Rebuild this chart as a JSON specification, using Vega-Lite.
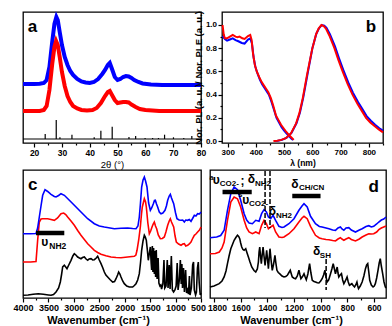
{
"$schema": "https://vega.github.io/schema/vega-lite/v6.json",
"background": "white",
"padding": {"left": 12, "top": 8, "right": 0, "bottom": 0},
"spacing": -6,
"config": {
  "view": {"stroke": "black", "strokeWidth": 1.3},
  "axis": {"domain": false, "grid": false, "tickColor": "black", "tickWidth": 1.2, "labelColor": "black", "titleColor": "black", "labelFont": "Liberation Sans", "titleFont": "Liberation Sans", "labelFontWeight": "bold", "titleFontWeight": "bold", "labelFlush": false, "labelOverlap": false, "labelPadding": 1.5, "titlePadding": 2},
  "text": {"font": "Liberation Sans", "fontWeight": "bold", "color": "black"},
  "line": {"clip": true}
},
"datasets": {
  "xrd_b": [{"x":16,"y":58},{"x":20,"y":58},{"x":22,"y":58.2},{"x":23.5,"y":59},{"x":24.5,"y":62},{"x":25.5,"y":75},{"x":26.5,"y":100},{"x":27.3,"y":118},{"x":28,"y":125},{"x":28.5,"y":122},{"x":29.2,"y":110},{"x":30,"y":97},{"x":31,"y":85},{"x":32,"y":77},{"x":33,"y":71},{"x":34,"y":67},{"x":35.5,"y":63},{"x":37,"y":60.5},{"x":38.5,"y":59.5},{"x":40,"y":59},{"x":41.5,"y":60},{"x":43,"y":63},{"x":44.5,"y":68},{"x":45.5,"y":72},{"x":46.5,"y":77},{"x":47.2,"y":79},{"x":48,"y":73},{"x":49,"y":65},{"x":50,"y":62},{"x":51,"y":63},{"x":52,"y":65},{"x":53,"y":66},{"x":54,"y":65.5},{"x":55,"y":64},{"x":56,"y":62},{"x":57.5,"y":60},{"x":59,"y":58.5},{"x":62,"y":57.5},{"x":66,"y":57},{"x":70,"y":57},{"x":75,"y":57},{"x":80,"y":57}],
  "xrd_r": [{"x":16,"y":31},{"x":22,"y":31},{"x":23.5,"y":32},{"x":24.5,"y":36},{"x":25.5,"y":52},{"x":26.5,"y":78},{"x":27.3,"y":95},{"x":27.9,"y":101},{"x":28.5,"y":97},{"x":29.2,"y":85},{"x":30,"y":70},{"x":31,"y":56},{"x":32,"y":46},{"x":33,"y":40},{"x":34,"y":36},{"x":35.5,"y":33.5},{"x":37,"y":32},{"x":39,"y":31.5},{"x":41,"y":32},{"x":42.5,"y":34},{"x":44,"y":39},{"x":45.5,"y":46},{"x":46.5,"y":50},{"x":47.2,"y":51},{"x":48,"y":47},{"x":49,"y":42},{"x":50,"y":39},{"x":51,"y":39.5},{"x":52,"y":40},{"x":53,"y":40},{"x":54,"y":39.5},{"x":55,"y":37.5},{"x":56.5,"y":35},{"x":58,"y":33},{"x":60,"y":32},{"x":65,"y":31},{"x":70,"y":31},{"x":75,"y":31},{"x":80,"y":31}],
  "sticks": [{"x":23.98,"y":8},{"x":27.95,"y":22},{"x":29.28,"y":4.7},{"x":33.6,"y":7.3},{"x":41.6,"y":4.7},{"x":44.0,"y":11.3},{"x":48.07,"y":15.3},{"x":54.1,"y":5},{"x":56.5,"y":6},{"x":59.9,"y":4},{"x":62.6,"y":4},{"x":64.7,"y":4},{"x":66.9,"y":7.3},{"x":70.1,"y":4.7},{"x":73.8,"y":4},{"x":76.7,"y":6}],
  "ple_r": [{"x":282,"y":1.0},{"x":286,"y":0.92},{"x":290,"y":0.885},{"x":298,"y":0.885},{"x":308,"y":0.9},{"x":318,"y":0.915},{"x":328,"y":0.9},{"x":335,"y":0.895},{"x":342,"y":0.9},{"x":352,"y":0.885},{"x":360,"y":0.88},{"x":372,"y":0.905},{"x":380,"y":0.915},{"x":385,"y":0.87},{"x":390,"y":0.75},{"x":396,"y":0.66},{"x":403,"y":0.6},{"x":412,"y":0.55},{"x":420,"y":0.51},{"x":428,"y":0.48},{"x":436,"y":0.45},{"x":444,"y":0.42},{"x":453,"y":0.37},{"x":462,"y":0.3},{"x":471,"y":0.22},{"x":480,"y":0.18},{"x":489,"y":0.14},{"x":498,"y":0.11},{"x":507,"y":0.08},{"x":516,"y":0.055},{"x":524,"y":0.035},{"x":534,"y":0.01}],
  "ple_b": [{"x":282,"y":0.905},{"x":290,"y":0.88},{"x":298,"y":0.865},{"x":308,"y":0.875},{"x":318,"y":0.885},{"x":328,"y":0.87},{"x":338,"y":0.86},{"x":350,"y":0.845},{"x":360,"y":0.84},{"x":372,"y":0.875},{"x":380,"y":0.885},{"x":386,"y":0.84},{"x":392,"y":0.72},{"x":398,"y":0.64},{"x":406,"y":0.58},{"x":414,"y":0.53},{"x":422,"y":0.49},{"x":430,"y":0.46},{"x":438,"y":0.43},{"x":446,"y":0.4},{"x":455,"y":0.34},{"x":464,"y":0.27},{"x":473,"y":0.2},{"x":482,"y":0.16},{"x":491,"y":0.12},{"x":500,"y":0.09},{"x":509,"y":0.065},{"x":518,"y":0.04},{"x":526,"y":0.02},{"x":532,"y":0.01}],
  "pl_r": [{"x":462,"y":0},{"x":475,"y":0.003},{"x":490,"y":0.01},{"x":506,"y":0.025},{"x":524,"y":0.065},{"x":542,"y":0.15},{"x":554,"y":0.24},{"x":566,"y":0.37},{"x":581,"y":0.57},{"x":599,"y":0.79},{"x":613,"y":0.92},{"x":622,"y":0.97},{"x":632,"y":1.0},{"x":640,"y":0.99},{"x":648,"y":0.97},{"x":660,"y":0.91},{"x":678,"y":0.8},{"x":692,"y":0.7},{"x":707,"y":0.6},{"x":725,"y":0.49},{"x":742,"y":0.4},{"x":760,"y":0.32},{"x":775,"y":0.26},{"x":790,"y":0.2},{"x":805,"y":0.16},{"x":820,"y":0.13},{"x":835,"y":0.1},{"x":850,"y":0.075}],
  "pl_b": [{"x":465,"y":0},{"x":478,"y":0.003},{"x":492,"y":0.01},{"x":508,"y":0.027},{"x":526,"y":0.07},{"x":544,"y":0.155},{"x":556,"y":0.245},{"x":568,"y":0.38},{"x":583,"y":0.58},{"x":600,"y":0.8},{"x":614,"y":0.925},{"x":623,"y":0.97},{"x":633,"y":1.0},{"x":642,"y":0.995},{"x":650,"y":0.975},{"x":662,"y":0.92},{"x":680,"y":0.815},{"x":694,"y":0.715},{"x":709,"y":0.615},{"x":727,"y":0.505},{"x":744,"y":0.415},{"x":762,"y":0.335},{"x":777,"y":0.275},{"x":792,"y":0.215},{"x":807,"y":0.175},{"x":822,"y":0.14},{"x":837,"y":0.11},{"x":850,"y":0.09}],
  "c_b": [{"x":4000,"y":64.3},{"x":3850,"y":64.3},{"x":3744,"y":64.5},{"x":3712,"y":70},{"x":3679,"y":81},{"x":3646,"y":92},{"x":3613,"y":102.7},{"x":3567,"y":108.3},{"x":3515,"y":106.5},{"x":3449,"y":103.7},{"x":3384,"y":101.5},{"x":3351,"y":101},{"x":3300,"y":102.5},{"x":3253,"y":104.3},{"x":3187,"y":102.7},{"x":3089,"y":97.7},{"x":2991,"y":92.7},{"x":2860,"y":86},{"x":2728,"y":79.3},{"x":2597,"y":74.3},{"x":2500,"y":72},{"x":2401,"y":71},{"x":2204,"y":69.3},{"x":2073,"y":69.8},{"x":1942,"y":70},{"x":1844,"y":69.5},{"x":1778,"y":69.3},{"x":1740,"y":72},{"x":1713,"y":81},{"x":1690,"y":95},{"x":1667,"y":111},{"x":1640,"y":118},{"x":1614,"y":121},{"x":1590,"y":117},{"x":1562,"y":111},{"x":1530,"y":95},{"x":1496,"y":87.7},{"x":1470,"y":90},{"x":1437,"y":94.3},{"x":1415,"y":97.5},{"x":1398,"y":97.7},{"x":1375,"y":94},{"x":1352,"y":91},{"x":1320,"y":86},{"x":1287,"y":84.3},{"x":1250,"y":85},{"x":1208,"y":87.7},{"x":1180,"y":92},{"x":1155,"y":97.7},{"x":1125,"y":102},{"x":1103,"y":103.7},{"x":1080,"y":100},{"x":1037,"y":94.3},{"x":1000,"y":85},{"x":972,"y":79.3},{"x":930,"y":78},{"x":893,"y":77.7},{"x":860,"y":78},{"x":828,"y":76},{"x":800,"y":78},{"x":762,"y":77.7},{"x":730,"y":78.5},{"x":697,"y":76.7},{"x":660,"y":80},{"x":631,"y":82.7},{"x":600,"y":82},{"x":566,"y":84.3},{"x":530,"y":84},{"x":500,"y":86}],
  "c_r": [{"x":4000,"y":36},{"x":3850,"y":36},{"x":3744,"y":36.5},{"x":3712,"y":57.7},{"x":3679,"y":76},{"x":3646,"y":79},{"x":3613,"y":79.3},{"x":3515,"y":79.3},{"x":3450,"y":78.5},{"x":3384,"y":77.7},{"x":3320,"y":80},{"x":3253,"y":84.3},{"x":3200,"y":85},{"x":3160,"y":83.5},{"x":3122,"y":81},{"x":3056,"y":77},{"x":2991,"y":72.7},{"x":2925,"y":67.5},{"x":2860,"y":62.7},{"x":2794,"y":58.5},{"x":2728,"y":54.3},{"x":2663,"y":51},{"x":2597,"y":47.7},{"x":2532,"y":45.5},{"x":2466,"y":43.7},{"x":2370,"y":42.2},{"x":2270,"y":41},{"x":2170,"y":40.5},{"x":2073,"y":40.3},{"x":1942,"y":41},{"x":1811,"y":41.7},{"x":1780,"y":43},{"x":1758,"y":47.7},{"x":1725,"y":58},{"x":1693,"y":71},{"x":1670,"y":84},{"x":1654,"y":91},{"x":1614,"y":99.3},{"x":1590,"y":96},{"x":1575,"y":91},{"x":1545,"y":75},{"x":1516,"y":64.3},{"x":1490,"y":67},{"x":1463,"y":71},{"x":1440,"y":74},{"x":1418,"y":76},{"x":1395,"y":72},{"x":1372,"y":69.3},{"x":1340,"y":63},{"x":1300,"y":59.3},{"x":1260,"y":59.5},{"x":1221,"y":61},{"x":1190,"y":66},{"x":1155,"y":72.7},{"x":1125,"y":77},{"x":1103,"y":79.3},{"x":1080,"y":76},{"x":1037,"y":71},{"x":1010,"y":62},{"x":985,"y":56},{"x":940,"y":54},{"x":893,"y":52.7},{"x":860,"y":54},{"x":828,"y":54.3},{"x":800,"y":52},{"x":762,"y":52.7},{"x":730,"y":54},{"x":697,"y":56},{"x":660,"y":60},{"x":631,"y":62.7},{"x":600,"y":64},{"x":566,"y":66},{"x":530,"y":68},{"x":500,"y":71}],
  "c_k": [{"x":4000,"y":2.7},{"x":3900,"y":3},{"x":3800,"y":3.7},{"x":3700,"y":4.3},{"x":3600,"y":3.7},{"x":3500,"y":3},{"x":3449,"y":2.7},{"x":3400,"y":3.5},{"x":3351,"y":6},{"x":3300,"y":10},{"x":3266,"y":16},{"x":3240,"y":24},{"x":3220,"y":31},{"x":3187,"y":32.7},{"x":3160,"y":31},{"x":3135,"y":29.3},{"x":3100,"y":33},{"x":3056,"y":37.7},{"x":3020,"y":42},{"x":2991,"y":44.3},{"x":2960,"y":43},{"x":2925,"y":41},{"x":2890,"y":40},{"x":2860,"y":39.3},{"x":2830,"y":40.5},{"x":2794,"y":41},{"x":2760,"y":39},{"x":2728,"y":37.7},{"x":2700,"y":39},{"x":2663,"y":39.3},{"x":2630,"y":38},{"x":2597,"y":38.3},{"x":2560,"y":40},{"x":2532,"y":41.7},{"x":2500,"y":38},{"x":2466,"y":34.3},{"x":2430,"y":30},{"x":2401,"y":26},{"x":2370,"y":23},{"x":2335,"y":21},{"x":2290,"y":18.5},{"x":2237,"y":16},{"x":2200,"y":16.5},{"x":2171,"y":19.3},{"x":2140,"y":23},{"x":2119,"y":26},{"x":2095,"y":24},{"x":2073,"y":21},{"x":2040,"y":17},{"x":2008,"y":14.3},{"x":1960,"y":12},{"x":1909,"y":11},{"x":1844,"y":11},{"x":1810,"y":12.5},{"x":1778,"y":14.3},{"x":1745,"y":18},{"x":1713,"y":24.3},{"x":1690,"y":35},{"x":1667,"y":47.7},{"x":1640,"y":57},{"x":1614,"y":62.7},{"x":1595,"y":61},{"x":1575,"y":57.7},{"x":1555,"y":48},{"x":1536,"y":37.7},{"x":1515,"y":45},{"x":1496,"y":51},{"x":1480,"y":35},{"x":1470,"y":28},{"x":1457,"y":52},{"x":1445,"y":26},{"x":1432,"y":50},{"x":1417,"y":24},{"x":1405,"y":47},{"x":1392,"y":21},{"x":1380,"y":48},{"x":1363,"y":19},{"x":1343,"y":40},{"x":1328,"y":15},{"x":1308,"y":12},{"x":1290,"y":13},{"x":1275,"y":9},{"x":1250,"y":14},{"x":1228,"y":38},{"x":1213,"y":10},{"x":1188,"y":12},{"x":1163,"y":38},{"x":1148,"y":10},{"x":1125,"y":33},{"x":1108,"y":9},{"x":1083,"y":42},{"x":1063,"y":8},{"x":1039,"y":6},{"x":1013,"y":8},{"x":989,"y":12},{"x":968,"y":35},{"x":951,"y":8},{"x":926,"y":18},{"x":906,"y":38},{"x":889,"y":14},{"x":876,"y":34},{"x":864,"y":10},{"x":844,"y":30},{"x":826,"y":6},{"x":802,"y":28},{"x":784,"y":5},{"x":766,"y":8},{"x":746,"y":4},{"x":728,"y":22},{"x":716,"y":3},{"x":689,"y":10},{"x":664,"y":33},{"x":647,"y":36},{"x":632,"y":8},{"x":607,"y":3},{"x":590,"y":6},{"x":570,"y":30},{"x":553,"y":36},{"x":535,"y":15},{"x":515,"y":3},{"x":500,"y":5}],
  "d_b": [{"x":1830,"y":60.3},{"x":1780,"y":61},{"x":1750,"y":62.5},{"x":1724,"y":67.7},{"x":1699,"y":87.7},{"x":1674,"y":104.3},{"x":1649,"y":111},{"x":1624,"y":108.3},{"x":1600,"y":97.7},{"x":1574,"y":84.3},{"x":1555,"y":78},{"x":1537,"y":75},{"x":1512,"y":74.3},{"x":1487,"y":77.7},{"x":1462,"y":76.7},{"x":1443,"y":84.3},{"x":1425,"y":88.3},{"x":1407,"y":86},{"x":1392,"y":81},{"x":1375,"y":79.3},{"x":1357,"y":82.7},{"x":1338,"y":77.7},{"x":1313,"y":71.7},{"x":1290,"y":70.5},{"x":1275,"y":71},{"x":1238,"y":74.3},{"x":1200,"y":79.3},{"x":1163,"y":87.7},{"x":1140,"y":92},{"x":1125,"y":94.3},{"x":1101,"y":91},{"x":1076,"y":81.7},{"x":1039,"y":74.3},{"x":1010,"y":71.5},{"x":989,"y":71},{"x":960,"y":70},{"x":938,"y":69.3},{"x":910,"y":68},{"x":889,"y":67.7},{"x":870,"y":70},{"x":852,"y":71},{"x":840,"y":69},{"x":826,"y":67.7},{"x":810,"y":70},{"x":789,"y":70.3},{"x":770,"y":68},{"x":739,"y":66},{"x":710,"y":68},{"x":689,"y":69.3},{"x":660,"y":71.5},{"x":639,"y":72.3},{"x":620,"y":71},{"x":602,"y":71.7},{"x":580,"y":74},{"x":564,"y":76},{"x":545,"y":78},{"x":527,"y":79},{"x":510,"y":81}],
  "d_r": [{"x":1830,"y":44.3},{"x":1790,"y":44.5},{"x":1760,"y":46},{"x":1740,"y":50},{"x":1724,"y":56},{"x":1699,"y":77.7},{"x":1674,"y":96},{"x":1649,"y":101},{"x":1624,"y":99.3},{"x":1600,"y":91},{"x":1574,"y":77.7},{"x":1555,"y":70},{"x":1537,"y":66},{"x":1512,"y":64.3},{"x":1487,"y":66},{"x":1462,"y":64.3},{"x":1443,"y":72.7},{"x":1425,"y":77.7},{"x":1407,"y":74.3},{"x":1392,"y":69.3},{"x":1375,"y":71},{"x":1357,"y":72.7},{"x":1338,"y":66},{"x":1313,"y":61},{"x":1290,"y":60.5},{"x":1275,"y":61},{"x":1238,"y":64.3},{"x":1200,"y":69.3},{"x":1163,"y":76},{"x":1140,"y":80},{"x":1125,"y":81.7},{"x":1101,"y":79.3},{"x":1076,"y":71.7},{"x":1039,"y":62.7},{"x":1010,"y":60},{"x":989,"y":59.3},{"x":960,"y":58.5},{"x":938,"y":58.3},{"x":910,"y":57.5},{"x":889,"y":57},{"x":870,"y":59},{"x":852,"y":60.3},{"x":840,"y":59},{"x":826,"y":57.7},{"x":810,"y":59},{"x":789,"y":60.3},{"x":770,"y":58.5},{"x":739,"y":57},{"x":710,"y":59},{"x":689,"y":61},{"x":660,"y":63},{"x":639,"y":64.3},{"x":620,"y":64},{"x":602,"y":64.3},{"x":580,"y":66},{"x":564,"y":68.3},{"x":545,"y":70},{"x":527,"y":71},{"x":510,"y":72}],
  "d_k": [{"x":1830,"y":11},{"x":1800,"y":12},{"x":1761,"y":14.3},{"x":1740,"y":17},{"x":1724,"y":21},{"x":1710,"y":27},{"x":1699,"y":34.3},{"x":1687,"y":42},{"x":1674,"y":49.3},{"x":1660,"y":54},{"x":1649,"y":57.7},{"x":1636,"y":60.5},{"x":1624,"y":62.7},{"x":1615,"y":61.5},{"x":1607,"y":59.3},{"x":1600,"y":55},{"x":1592,"y":51},{"x":1583,"y":48.5},{"x":1574,"y":47.7},{"x":1568,"y":48.5},{"x":1562,"y":49.3},{"x":1552,"y":45},{"x":1542,"y":41},{"x":1530,"y":36},{"x":1517,"y":31},{"x":1500,"y":27.5},{"x":1487,"y":26},{"x":1475,"y":29},{"x":1467,"y":36},{"x":1462,"y":46},{"x":1457,"y":51},{"x":1451,"y":42},{"x":1445,"y":34.3},{"x":1438,"y":44},{"x":1432,"y":51},{"x":1425,"y":42},{"x":1417,"y":32.7},{"x":1411,"y":40},{"x":1405,"y":47.7},{"x":1398,"y":38},{"x":1392,"y":29.3},{"x":1386,"y":40},{"x":1380,"y":49.3},{"x":1372,"y":38},{"x":1363,"y":27.7},{"x":1353,"y":34},{"x":1343,"y":42.7},{"x":1336,"y":35},{"x":1328,"y":27.7},{"x":1318,"y":25.5},{"x":1308,"y":24.3},{"x":1290,"y":22},{"x":1275,"y":21},{"x":1262,"y":21.5},{"x":1250,"y":22.7},{"x":1240,"y":25},{"x":1228,"y":27.7},{"x":1220,"y":24},{"x":1213,"y":21},{"x":1200,"y":19.8},{"x":1188,"y":19.3},{"x":1175,"y":22},{"x":1163,"y":27.7},{"x":1155,"y":23},{"x":1148,"y":19.3},{"x":1136,"y":21.5},{"x":1125,"y":24.3},{"x":1116,"y":21},{"x":1108,"y":18.3},{"x":1096,"y":24},{"x":1083,"y":34.3},{"x":1073,"y":25},{"x":1063,"y":17.7},{"x":1050,"y":16.5},{"x":1039,"y":16},{"x":1025,"y":15.2},{"x":1013,"y":15},{"x":1000,"y":17},{"x":989,"y":19.3},{"x":978,"y":23},{"x":968,"y":27.7},{"x":960,"y":21},{"x":951,"y":16},{"x":940,"y":18},{"x":926,"y":24.3},{"x":916,"y":29},{"x":906,"y":34.3},{"x":897,"y":29},{"x":889,"y":24.3},{"x":882,"y":28},{"x":876,"y":31},{"x":870,"y":25},{"x":864,"y":21},{"x":854,"y":23},{"x":844,"y":24.3},{"x":835,"y":18},{"x":826,"y":14.3},{"x":815,"y":17},{"x":802,"y":21},{"x":793,"y":16},{"x":784,"y":12.7},{"x":775,"y":13.5},{"x":766,"y":14.3},{"x":756,"y":12.5},{"x":746,"y":11},{"x":737,"y":13},{"x":728,"y":16},{"x":722,"y":12},{"x":716,"y":9.3},{"x":703,"y":12},{"x":689,"y":16},{"x":676,"y":22},{"x":664,"y":29.3},{"x":655,"y":33},{"x":647,"y":34.3},{"x":640,"y":27},{"x":632,"y":17.7},{"x":620,"y":13},{"x":607,"y":11},{"x":598,"y":12},{"x":590,"y":14.3},{"x":580,"y":20},{"x":570,"y":27.7},{"x":561,"y":35},{"x":553,"y":39.3},{"x":545,"y":32},{"x":535,"y":24.3},{"x":525,"y":16},{"x":515,"y":11},{"x":510,"y":10}]
},
"vconcat": [
 {"spacing": 21, "bounds": "flush", "hconcat": [
  {"width": 178, "height": 131,
   "encoding": {
     "x": {"field": "x", "type": "quantitative", "scale": {"domain": [16, 80], "nice": false, "zero": false},
       "axis": {"values": [20,25,30,35,40,45,50,55,60,65,70,75,80], "labelExpr": "datum.value % 10 === 0 ? datum.label : ''", "tickSize": {"condition": {"test": "datum.value % 10 === 0", "value": 4}, "value": 2}, "title": "2θ (°)", "titleFontWeight": "normal", "titleFontSize": 9.5, "labelFontSize": 8.5}},
     "y": {"field": "y", "type": "quantitative", "scale": {"domain": [-1, 130], "nice": false, "zero": false}, "axis": null}
   },
   "layer": [
     {"data": {"name": "xrd_b"}, "mark": {"type": "line", "color": "#0000ff", "strokeWidth": 4}},
     {"data": {"name": "xrd_r"}, "mark": {"type": "line", "color": "#ff0000", "strokeWidth": 4}},
     {"data": {"name": "sticks"}, "mark": {"type": "rule", "color": "black", "strokeWidth": 1.2}, "encoding": {"y2": {"datum": 3}}},
     {"data": {"values": [{"x": 16, "xe": 80, "y": 3}]}, "mark": {"type": "rule", "color": "black", "strokeWidth": 1.2}, "encoding": {"x2": {"field": "xe"}}},
     {"data": {"values": [{"x": 19.4, "y": 109.7, "t": "a"}]}, "mark": {"type": "text", "fontSize": 17, "baseline": "alphabetic"}, "encoding": {"text": {"field": "t"}}}
   ]},
  {"width": 161, "height": 131,
   "encoding": {
     "x": {"field": "x", "type": "quantitative", "scale": {"domain": [280, 850], "nice": false, "zero": false},
       "axis": {"values": [300,350,400,450,500,550,600,650,700,750,800,850], "format": "d", "labelExpr": "datum.value % 100 === 0 ? datum.label : ''", "tickSize": {"condition": {"test": "datum.value % 100 === 0", "value": 4}, "value": 2}, "title": "λ (nm)", "titleFontSize": 8.5, "labelFontSize": 8}},
     "y": {"field": "y", "type": "quantitative", "scale": {"domain": [-0.017, 1.112], "nice": false, "zero": false},
       "axis": {"values": [0,0.1,0.2,0.3,0.4,0.5,0.6,0.7,0.8,0.9,1.0], "labelExpr": "round(datum.value*10) % 2 === 0 ? format(datum.value, '.1f') : ''", "tickSize": {"condition": {"test": "round(datum.value*10) % 2 === 0", "value": 4}, "value": 2}, "title": "Nor. PL (a. u.)/ Nor. PLE (a. u.)", "titleFontSize": 9.5, "labelFontSize": 8}}
   },
   "layer": [
     {"data": {"name": "ple_b"}, "mark": {"type": "line", "color": "#0000ff", "strokeWidth": 2}},
     {"data": {"name": "pl_b"}, "mark": {"type": "line", "color": "#0000ff", "strokeWidth": 2}},
     {"data": {"name": "ple_r"}, "mark": {"type": "line", "color": "#ff0000", "strokeWidth": 2}},
     {"data": {"name": "pl_r"}, "mark": {"type": "line", "color": "#ff0000", "strokeWidth": 2}},
     {"data": {"values": [{"x": 807, "y": 0.937, "t": "b"}]}, "mark": {"type": "text", "fontSize": 17, "baseline": "alphabetic"}, "encoding": {"text": {"field": "t"}}}
   ]}
 ]},
 {"spacing": 9, "bounds": "flush", "hconcat": [
  {"width": 178, "height": 128,
   "encoding": {
     "x": {"field": "x", "type": "quantitative", "scale": {"domain": [500, 4000], "reverse": true, "nice": false, "zero": false},
       "axis": {"values": [4000,3750,3500,3250,3000,2750,2500,2250,2000,1750,1500,1250,1000,750,500], "format": "d", "labelExpr": "datum.value % 500 === 0 ? datum.label : ''", "labelOffset": {"condition": {"test": "datum.value === 500", "value": -3}, "value": 0}, "tickSize": {"condition": {"test": "datum.value % 500 === 0", "value": 4}, "value": 2}, "title": "Wavenumber (cm⁻¹)", "titleFontSize": 11, "titleX": 75, "labelFontSize": 9}},
     "y": {"field": "y", "type": "quantitative", "scale": {"domain": [0, 128], "nice": false, "zero": false}, "axis": null}
   },
   "layer": [
     {"data": {"name": "c_k"}, "mark": {"type": "line", "color": "black", "strokeWidth": 1.6}},
     {"data": {"name": "c_r"}, "mark": {"type": "line", "color": "#ff0000", "strokeWidth": 1.6}},
     {"data": {"name": "c_b"}, "mark": {"type": "line", "color": "#0000ff", "strokeWidth": 1.6}},
     {"data": {"values": [{"x": 3744, "xe": 3188, "y": 65}]}, "mark": {"type": "rule", "color": "black", "strokeWidth": 4.5}, "encoding": {"x2": {"field": "xe"}}},
     {"data": {"values": [{"x": 3573, "y": 56, "t": "υ"}]}, "mark": {"type": "text", "fontSize": 12, "baseline": "middle"}, "encoding": {"text": {"field": "t"}}},
     {"data": {"values": [{"x": 3482, "y": 52, "t": "NH2"}]}, "mark": {"type": "text", "fontSize": 8.5, "align": "left", "baseline": "middle"}, "encoding": {"text": {"field": "t"}}},
     {"data": {"values": [{"x": 3809, "y": 108.3, "t": "c"}]}, "mark": {"type": "text", "fontSize": 17, "baseline": "alphabetic"}, "encoding": {"text": {"field": "t"}}}
   ]},
  {"width": 176, "height": 128,
   "encoding": {
     "x": {"field": "x", "type": "quantitative", "scale": {"domain": [510, 1830], "reverse": true, "nice": false, "zero": false},
       "axis": {"values": [1800,1700,1600,1500,1400,1300,1200,1100,1000,900,800,700,600], "format": "d", "labelExpr": "datum.value % 200 === 0 ? datum.label : ''", "labelOffset": {"condition": {"test": "datum.value === 1800", "value": 3}, "value": 0}, "tickSize": {"condition": {"test": "datum.value % 200 === 0", "value": 4}, "value": 2}, "title": "Wavenumber (cm⁻¹)", "titleFontSize": 11, "titleX": 81, "labelFontSize": 8.5}},
     "y": {"field": "y", "type": "quantitative", "scale": {"domain": [0, 128], "nice": false, "zero": false}, "axis": null}
   },
   "layer": [
     {"data": {"name": "d_k"}, "mark": {"type": "line", "color": "black", "strokeWidth": 1.6}},
     {"data": {"name": "d_r"}, "mark": {"type": "line", "color": "#ff0000", "strokeWidth": 1.6}},
     {"data": {"name": "d_b"}, "mark": {"type": "line", "color": "#0000ff", "strokeWidth": 1.6}},
     {"data": {"values": [{"x": 1736, "xe": 1517, "y": 106}, {"x": 1213, "xe": 1001, "y": 102}]}, "mark": {"type": "rule", "color": "black", "strokeWidth": 4.5}, "encoding": {"x2": {"field": "xe"}}},
     {"data": {"values": [{"x": 1417, "y": 127, "ye": 70}, {"x": 1380, "y": 127, "ye": 70}, {"x": 959, "y": 39, "ye": 8}]}, "mark": {"type": "rule", "color": "black", "strokeWidth": 1.5, "strokeDash": [5, 2]}, "encoding": {"y2": {"field": "ye"}}},
     {"data": {"values": [{"x": 1783, "y": 117.7, "t": "υ"}, {"x": 1587, "y": 117, "t": ";"}, {"x": 1520, "y": 118.7, "t": "δ"}, {"x": 1562, "y": 97.7, "t": "υ"}, {"x": 1362, "y": 87.3, "t": "δ"}, {"x": 1193, "y": 114, "t": "δ"}, {"x": 1031, "y": 47, "t": "δ"}]}, "mark": {"type": "text", "fontSize": 12, "baseline": "middle"}, "encoding": {"text": {"field": "t"}}},
     {"data": {"values": [{"x": 1757, "y": 114.5, "t": "CO2-"}, {"x": 1492, "y": 114.5, "t": "NH2"}, {"x": 1537, "y": 94.5, "t": "CO2-"}, {"x": 1335, "y": 82, "t": "NH2"}, {"x": 1163, "y": 110.3, "t": "CH/CN"}, {"x": 1006, "y": 42, "t": "SH"}]}, "mark": {"type": "text", "fontSize": 8, "align": "left", "baseline": "middle"}, "encoding": {"text": {"field": "t"}}},
     {"data": {"values": [{"x": 1819, "y": 120.3, "t": "a"}, {"x": 1602, "y": 102.7, "t": "s"}]}, "mark": {"type": "text", "fontSize": 7, "baseline": "middle"}, "encoding": {"text": {"field": "t"}}},
     {"data": {"values": [{"x": 602, "y": 106, "t": "d"}]}, "mark": {"type": "text", "fontSize": 17, "baseline": "alphabetic"}, "encoding": {"text": {"field": "t"}}}
   ]}
 ]}
]
}
